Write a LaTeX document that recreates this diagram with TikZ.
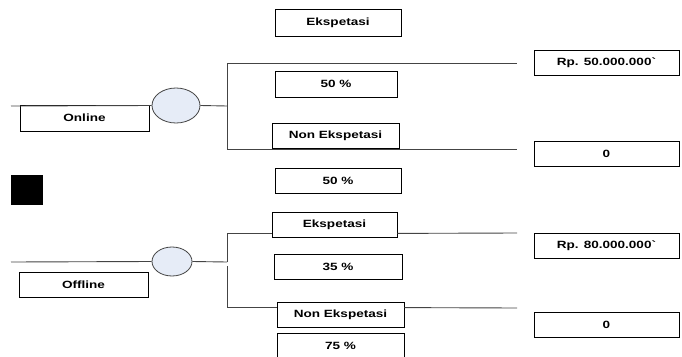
\documentclass[tikz,border=0pt]{standalone}
\usepackage{fontspec}
\usepackage{tikz}
\usetikzlibrary{shapes.geometric,calc}
\newfontfamily\boxfont[FakeStretch=1.29]{Liberation Sans}
\definecolor{chfill}{HTML}{E6ECF7}
\definecolor{wire}{HTML}{444444}
\tikzset{
  box/.style={draw, rectangle, line width=0.8pt, inner sep=0pt, minimum height=25pt,
    font=\boxfont\bfseries\fontsize{10.5}{12}\selectfont},
  mid/.style={box, minimum width=126pt},
  pay/.style={box, minimum width=145pt},
  lab/.style={box, minimum width=129pt},
  chance/.style={draw=wire, fill=chfill, ellipse, line width=0.8pt, inner sep=0pt},
  wr/.style={draw=wire, line width=0.9pt}
}

\begin{document}
\begin{tikzpicture}[x=1pt, y=-1pt]
\clip (0,0) rectangle (682,356);
% online branch
\node[mid, minimum height=27pt] (eksA) at (338,22.5) {Ekspetasi};
\node[mid, minimum width=122pt, minimum height=26pt] (pctA) at (336,84) {50 \%};
\node[mid, minimum width=127pt] (nonA) at (335.5,135.5) {Non Ekspetasi};
\node[mid] (pctB) at (338,180.5) {50 \%};
\node[pay] (rpA) at (606.5,62.5) {Rp. 50.000.000`};
\node[pay] (zeroA) at (606.5,153.5) {0};
\node[lab, minimum height=26pt] (online) at (84.5,118) {Online};
\node[chance, minimum width=48pt, minimum height=35pt] (circA) at (176,105.5) {};
\coordinate (inA) at (11,106);
\coordinate (jA) at (227,106);
\coordinate (upA) at (227,63);
\coordinate (dnA) at (227,149);
\coordinate (endA1) at (517,63);
\coordinate (endA2) at (517,149);
\draw[wr] (inA) -- (circA.west);
\draw[wr] (circA.east) -- (jA);
\draw[wr] (upA) -- (dnA);
\draw[wr] (upA) -- (endA1);
\draw[wr] (dnA) -- (endA2);

\fill (11,175) rectangle (43,205);

% offline branch
\node[mid, minimum width=125pt] (eksB) at (334.5,224.5) {Ekspetasi};
\node[mid, minimum width=128pt] (pctC) at (338,266.5) {35 \%};
\node[mid, minimum width=127pt] (nonB) at (340.5,314.5) {Non Ekspetasi};
\node[mid, minimum width=127pt, minimum height=26pt] (pctD) at (340.5,346) {75 \%};
\node[pay] (rpB) at (606.5,245.5) {Rp. 80.000.000`};
\node[pay] (zeroB) at (606.5,324.5) {0};
\node[lab] (offline) at (83.5,284.5) {Offline};
\node[chance, minimum width=40pt, minimum height=29pt] (circB) at (172,261.5) {};
\coordinate (inB) at (11,262);
\coordinate (jB) at (227,262);
\coordinate (jB2) at (227,266);
\coordinate (endB1) at (517,233);
\coordinate (endB2) at (517,308);
\draw[wr] (inB) -- (circB.west);
\draw[wr] (circB.east) -- (jB);
\draw[wr] (jB) |- ($(eksB.south west)+(0,-4)$);
\draw[wr] ($(eksB.south east)+(0,-4)$) -- (endB1);
\draw[wr] (jB2) |- ($(nonB.north west)+(0,6)$);
\draw[wr] ($(nonB.north east)+(0,6)$) -- (endB2);
\end{tikzpicture}
\end{document}
